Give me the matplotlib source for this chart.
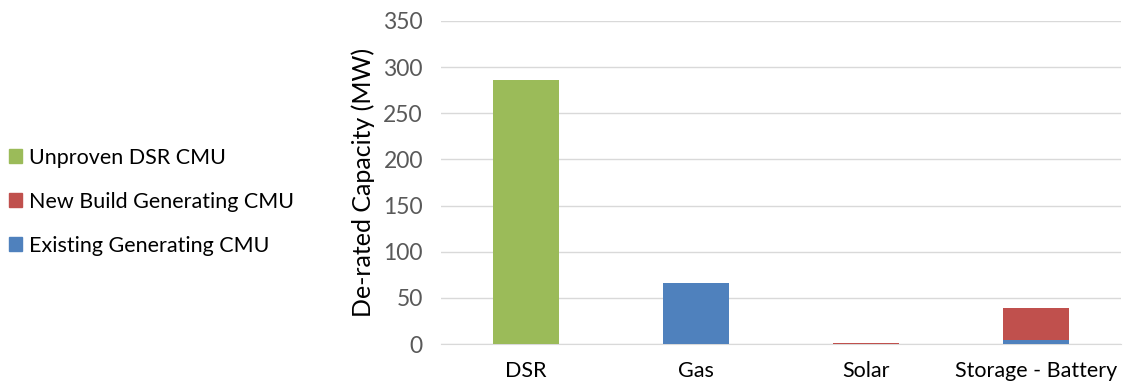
import matplotlib
matplotlib.use("Agg")
import matplotlib.pyplot as plt
import numpy as np
from matplotlib.patches import Patch

categories = ["DSR", "Gas", "Solar", "Storage - Battery"]
existing_generating = [0, 66, 0, 4.5]
new_build_generating = [0, 0, 0.8, 34.5]
unproven_dsr = [286, 0, 0, 0]
yticks = [0, 50, 100, 150, 200, 250, 300, 350]

plt.rcParams["font.family"] = ["Lato", "DejaVu Sans"]

fig = plt.figure(figsize=(11.29, 3.88), dpi=100)
ax = fig.add_axes([0.3906, 0.1134, 0.6024, 0.8326])

x = np.arange(len(categories))
w = 0.39
c_exist, c_new, c_dsr = "#4F81BD", "#C0504D", "#9BBB59"
ax.bar(x, existing_generating, w, color=c_exist, zorder=3)
ax.bar(x, new_build_generating, w, bottom=existing_generating, color=c_new, zorder=3)
base = np.array(existing_generating) + np.array(new_build_generating)
ax.bar(x, unproven_dsr, w, bottom=base, color=c_dsr, zorder=3)

ax.set_xlim(-0.5, len(categories) - 0.5)
ax.set_ylim(0, 350)
ax.set_yticks(yticks)
ax.set_xticks(x)
ax.set_xticklabels(categories, fontsize=15.5, color="black")
ax.tick_params(axis="y", labelsize=16.5, labelcolor="#595959", length=0, pad=13)
ax.tick_params(axis="x", length=0, pad=12)
ax.grid(axis="y", color="#D9D9D9", linewidth=1, zorder=0)
for s in ["top", "right", "left"]:
    ax.spines[s].set_visible(False)
ax.spines["bottom"].set_color("#D9D9D9")
ax.set_ylabel("De-rated Capacity (MW)", fontsize=18, labelpad=6)

handles = [Patch(color=c_dsr, label="Unproven DSR CMU"),
           Patch(color=c_new, label="New Build Generating CMU"),
           Patch(color=c_exist, label="Existing Generating CMU")]
fig.legend(handles=handles, loc="center left", bbox_to_anchor=(0.0, 0.48),
           frameon=False, fontsize=15.5, handlelength=0.6, handleheight=0.6,
           handletextpad=0.35, labelspacing=1.12, borderaxespad=0.0)

fig.savefig("out.png", dpi=100)
